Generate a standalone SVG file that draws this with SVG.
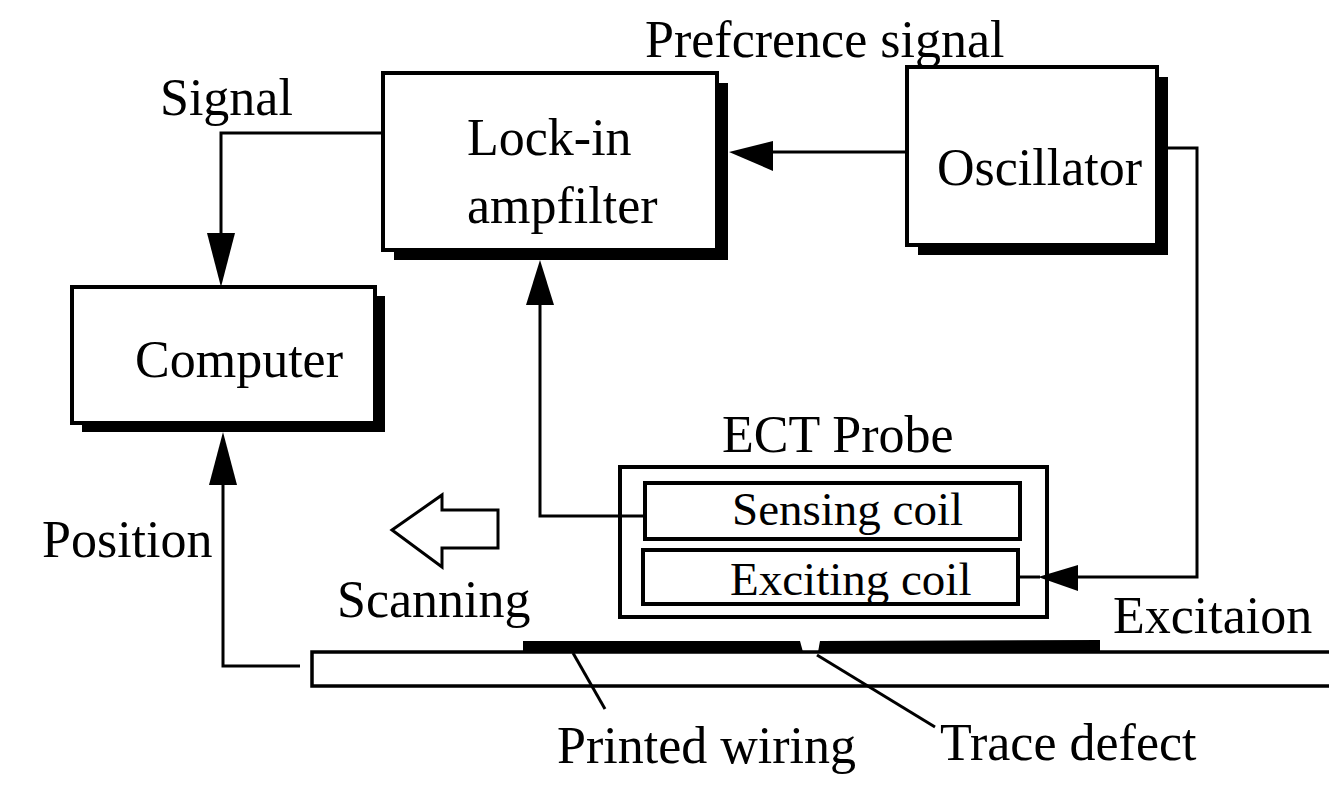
<svg xmlns="http://www.w3.org/2000/svg" width="1329" height="785" viewBox="0 0 1329 785">
<style>
text{font-family:"Liberation Serif","Times New Roman",serif;font-size:52px;fill:#000}
.coil{font-size:47px}
.box{fill:#fff;stroke:#000;stroke-width:4}
.shadow{fill:#000}
.line{fill:none;stroke:#000;stroke-width:3}
.head{fill:#000}
</style>
<rect width="1329" height="785" fill="#fff"/>
<text x="645" y="57">Prefcrence signal</text>
<text x="160" y="115">Signal</text>
<text x="42" y="557">Position</text>
<text x="337" y="617">Scanning</text>
<text x="1113" y="633">Excitaion</text>
<text x="557" y="763">Printed wiring</text>
<text x="940" y="760">Trace defect</text>

<g id="lockin">
<rect class="shadow" x="394" y="83" width="334" height="177"/>
<rect class="box" x="383" y="73" width="334" height="177"/>
<text x="467" y="155">Lock-in</text>
<text x="467" y="223">ampfilter</text>
</g>
<g id="oscillator">
<rect class="shadow" x="918" y="77" width="250" height="178"/>
<rect class="box" x="907" y="67" width="250" height="178"/>
<text x="937" y="185">Oscillator</text>
</g>
<g id="computer">
<rect class="shadow" x="82" y="296" width="303" height="136"/>
<rect class="box" x="72" y="287" width="303" height="136"/>
<text x="135" y="377">Computer</text>
</g>
<g id="ectprobe">
<text x="722" y="452">ECT Probe</text>
<rect class="box" x="620" y="467" width="427" height="150" stroke-width="3.5"/>
</g>
<g id="sensing">
<rect class="box" x="645" y="483" width="375" height="56"/>
<text class="coil" x="732" y="525">Sensing coil</text>
</g>
<g id="exciting">
<rect class="box" x="643" y="550" width="375" height="54"/>
<text class="coil" x="730" y="595">Exciting coil</text>
</g>
<g id="board">
<rect x="312" y="652" width="1030" height="34" fill="#fff" stroke="#000" stroke-width="3.5"/>
<polygon class="head" points="523,641 800,641 803,652 523,652"/>
<polygon class="head" points="820,641 1100,640 1100,651 818,652"/>
<line class="line" x1="573" y1="653" x2="605" y2="709" stroke-width="2"/>
<line class="line" x1="817" y1="655" x2="935" y2="727" stroke-width="2"/>
</g>
<g id="scanarrow">
<polygon points="392,530 442,495 442,510 498,510 498,548 442,548 442,567" fill="#fff" stroke="#000" stroke-width="3"/>
</g>

<g id="connectors">
<polyline class="line" points="383,133 221,133 221,240"/>
<polygon class="head" points="221,287 207,233 235,233"/>
<polyline class="line" points="907,152 770,152"/>
<polygon class="head" points="729,152 773,141 773,171"/>
<polyline class="line" points="1168,148 1197,148 1197,577 1075,577"/>
<polygon class="head" points="1038,577 1078,565 1078,591"/>
<line class="line" x1="1018" y1="577" x2="1040" y2="577"/>
<polyline class="line" points="645,516 540,516 540,300"/>
<polygon class="head" points="540,260 526,305 554,305"/>
<polyline class="line" points="300,666 223,666 223,480"/>
<polygon class="head" points="223,432 209,485 237,485"/>
</g>
</svg>
